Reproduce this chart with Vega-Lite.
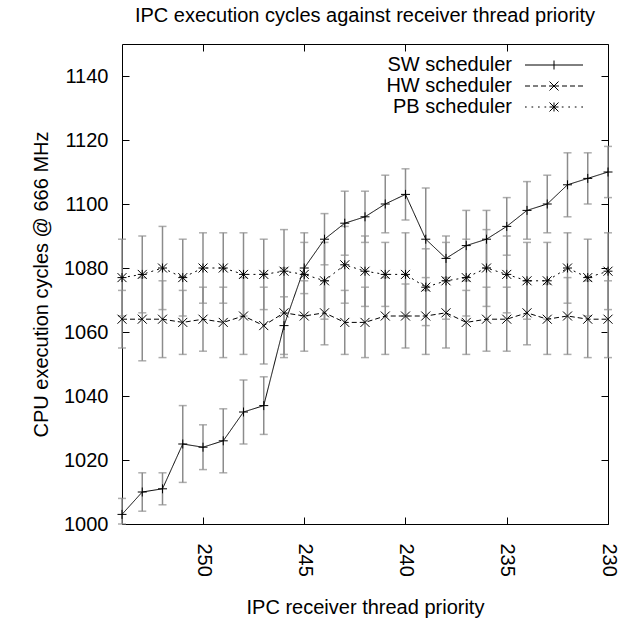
{
  "$schema": "https://vega.github.io/schema/vega-lite/v6.json",
  "width": 486,
  "height": 480,
  "autosize": "none",
  "padding": {"left": 122, "top": 44, "right": 30, "bottom": 97},
  "background": "white",
  "config": {
    "view": {"stroke": "black", "strokeWidth": 1},
    "font": "Liberation Sans",
    "axis": {
      "domain": false, "grid": false, "ticks": true, "tickColor": "black", "tickSize": -7, "tickWidth": 1,
      "labelFont": "Liberation Sans", "labelFontSize": 20, "labelColor": "black",
      "labelFlush": false, "labelOverlap": false, "labelBound": false,
      "titleFont": "Liberation Sans", "titleFontSize": 20, "titleFontWeight": "normal", "titleColor": "black"
    }
  },
  "title": {"text": "IPC execution cycles against receiver thread priority", "font": "Liberation Sans", "fontSize": 20, "fontWeight": "normal", "color": "black", "frame": "group", "offset": 18},
  "data": {"values": [
    {"series":"SW scheduler","prio":254,"cycles":1003,"lo":998,"hi":1008},
    {"series":"SW scheduler","prio":253,"cycles":1010,"lo":1004,"hi":1016},
    {"series":"SW scheduler","prio":252,"cycles":1011,"lo":1006,"hi":1016},
    {"series":"SW scheduler","prio":251,"cycles":1025,"lo":1013,"hi":1037},
    {"series":"SW scheduler","prio":250,"cycles":1024,"lo":1017,"hi":1031},
    {"series":"SW scheduler","prio":249,"cycles":1026,"lo":1016,"hi":1036},
    {"series":"SW scheduler","prio":248,"cycles":1035,"lo":1025,"hi":1045},
    {"series":"SW scheduler","prio":247,"cycles":1037,"lo":1028,"hi":1046},
    {"series":"SW scheduler","prio":246,"cycles":1062,"lo":1053,"hi":1071},
    {"series":"SW scheduler","prio":245,"cycles":1080,"lo":1072,"hi":1088},
    {"series":"SW scheduler","prio":244,"cycles":1089,"lo":1081,"hi":1097},
    {"series":"SW scheduler","prio":243,"cycles":1094,"lo":1084,"hi":1104},
    {"series":"SW scheduler","prio":242,"cycles":1096,"lo":1088,"hi":1104},
    {"series":"SW scheduler","prio":241,"cycles":1100,"lo":1091,"hi":1109},
    {"series":"SW scheduler","prio":240,"cycles":1103,"lo":1095,"hi":1111},
    {"series":"SW scheduler","prio":239,"cycles":1089,"lo":1073,"hi":1105},
    {"series":"SW scheduler","prio":238,"cycles":1083,"lo":1076,"hi":1090},
    {"series":"SW scheduler","prio":237,"cycles":1087,"lo":1076,"hi":1098},
    {"series":"SW scheduler","prio":236,"cycles":1089,"lo":1080,"hi":1098},
    {"series":"SW scheduler","prio":235,"cycles":1093,"lo":1084,"hi":1102},
    {"series":"SW scheduler","prio":234,"cycles":1098,"lo":1089,"hi":1107},
    {"series":"SW scheduler","prio":233,"cycles":1100,"lo":1091,"hi":1109},
    {"series":"SW scheduler","prio":232,"cycles":1106,"lo":1096,"hi":1116},
    {"series":"SW scheduler","prio":231,"cycles":1108,"lo":1100,"hi":1116},
    {"series":"SW scheduler","prio":230,"cycles":1110,"lo":1102,"hi":1118},
    {"series":"HW scheduler","prio":254,"cycles":1064,"lo":1055,"hi":1073},
    {"series":"HW scheduler","prio":253,"cycles":1064,"lo":1051,"hi":1077},
    {"series":"HW scheduler","prio":252,"cycles":1064,"lo":1052,"hi":1076},
    {"series":"HW scheduler","prio":251,"cycles":1063,"lo":1053,"hi":1073},
    {"series":"HW scheduler","prio":250,"cycles":1064,"lo":1054,"hi":1074},
    {"series":"HW scheduler","prio":249,"cycles":1063,"lo":1052,"hi":1074},
    {"series":"HW scheduler","prio":248,"cycles":1065,"lo":1053,"hi":1077},
    {"series":"HW scheduler","prio":247,"cycles":1062,"lo":1050,"hi":1074},
    {"series":"HW scheduler","prio":246,"cycles":1066,"lo":1052,"hi":1080},
    {"series":"HW scheduler","prio":245,"cycles":1065,"lo":1054,"hi":1076},
    {"series":"HW scheduler","prio":244,"cycles":1066,"lo":1056,"hi":1076},
    {"series":"HW scheduler","prio":243,"cycles":1063,"lo":1053,"hi":1073},
    {"series":"HW scheduler","prio":242,"cycles":1063,"lo":1052,"hi":1074},
    {"series":"HW scheduler","prio":241,"cycles":1065,"lo":1053,"hi":1077},
    {"series":"HW scheduler","prio":240,"cycles":1065,"lo":1055,"hi":1075},
    {"series":"HW scheduler","prio":239,"cycles":1065,"lo":1053,"hi":1077},
    {"series":"HW scheduler","prio":238,"cycles":1066,"lo":1055,"hi":1077},
    {"series":"HW scheduler","prio":237,"cycles":1063,"lo":1053,"hi":1073},
    {"series":"HW scheduler","prio":236,"cycles":1064,"lo":1054,"hi":1074},
    {"series":"HW scheduler","prio":235,"cycles":1064,"lo":1054,"hi":1074},
    {"series":"HW scheduler","prio":234,"cycles":1066,"lo":1056,"hi":1076},
    {"series":"HW scheduler","prio":233,"cycles":1064,"lo":1053,"hi":1075},
    {"series":"HW scheduler","prio":232,"cycles":1065,"lo":1053,"hi":1077},
    {"series":"HW scheduler","prio":231,"cycles":1064,"lo":1052,"hi":1076},
    {"series":"HW scheduler","prio":230,"cycles":1064,"lo":1052,"hi":1076},
    {"series":"PB scheduler","prio":254,"cycles":1077,"lo":1065,"hi":1089},
    {"series":"PB scheduler","prio":253,"cycles":1078,"lo":1066,"hi":1090},
    {"series":"PB scheduler","prio":252,"cycles":1080,"lo":1067,"hi":1093},
    {"series":"PB scheduler","prio":251,"cycles":1077,"lo":1065,"hi":1089},
    {"series":"PB scheduler","prio":250,"cycles":1080,"lo":1069,"hi":1091},
    {"series":"PB scheduler","prio":249,"cycles":1080,"lo":1069,"hi":1091},
    {"series":"PB scheduler","prio":248,"cycles":1078,"lo":1065,"hi":1091},
    {"series":"PB scheduler","prio":247,"cycles":1078,"lo":1067,"hi":1089},
    {"series":"PB scheduler","prio":246,"cycles":1079,"lo":1066,"hi":1092},
    {"series":"PB scheduler","prio":245,"cycles":1078,"lo":1065,"hi":1091},
    {"series":"PB scheduler","prio":244,"cycles":1076,"lo":1064,"hi":1088},
    {"series":"PB scheduler","prio":243,"cycles":1081,"lo":1069,"hi":1093},
    {"series":"PB scheduler","prio":242,"cycles":1079,"lo":1068,"hi":1090},
    {"series":"PB scheduler","prio":241,"cycles":1078,"lo":1068,"hi":1088},
    {"series":"PB scheduler","prio":240,"cycles":1078,"lo":1065,"hi":1091},
    {"series":"PB scheduler","prio":239,"cycles":1074,"lo":1062,"hi":1086},
    {"series":"PB scheduler","prio":238,"cycles":1076,"lo":1064,"hi":1088},
    {"series":"PB scheduler","prio":237,"cycles":1077,"lo":1065,"hi":1089},
    {"series":"PB scheduler","prio":236,"cycles":1080,"lo":1068,"hi":1092},
    {"series":"PB scheduler","prio":235,"cycles":1078,"lo":1066,"hi":1090},
    {"series":"PB scheduler","prio":234,"cycles":1076,"lo":1064,"hi":1088},
    {"series":"PB scheduler","prio":233,"cycles":1076,"lo":1064,"hi":1088},
    {"series":"PB scheduler","prio":232,"cycles":1080,"lo":1069,"hi":1091},
    {"series":"PB scheduler","prio":231,"cycles":1077,"lo":1065,"hi":1089},
    {"series":"PB scheduler","prio":230,"cycles":1079,"lo":1067,"hi":1091}
  ]},
  "layer": [
    {
      "mark": {"type": "errorbar", "ticks": {"size": 8, "color": "#8c8c8c", "thickness": 1.5}, "rule": {"color": "#8c8c8c", "strokeWidth": 1.5}},
      "encoding": {
        "x": {"field": "prio", "type": "quantitative", "scale": {"domain": [230, 254], "reverse": true, "nice": false, "zero": false}, "axis": null},
        "y": {"field": "lo", "type": "quantitative", "scale": {"domain": [1000, 1150], "nice": false, "zero": false, "clamp": true}, "axis": null},
        "y2": {"field": "hi"}
      }
    },
    {
      "mark": {"type": "line", "color": "black", "strokeWidth": 1},
      "encoding": {
        "x": {"field": "prio", "type": "quantitative", "axis": {"orient": "bottom", "values": [250, 245, 240, 235, 230], "labelAngle": 90, "labelAlign": "left", "labelBaseline": "middle", "labelPadding": 26, "title": "IPC receiver thread priority", "titlePadding": 21}},
        "y": {"field": "cycles", "type": "quantitative", "axis": {"orient": "left", "values": [1000, 1020, 1040, 1060, 1080, 1100, 1120, 1140], "format": "d", "labelPadding": 21, "title": "CPU execution cycles @ 666 MHz", "titlePadding": 12}},
        "strokeDash": {"field": "series", "type": "nominal", "sort": ["SW scheduler", "HW scheduler", "PB scheduler"], "scale": {"range": [[1, 0], [5, 3], [2, 4]]}, "legend": null}
      }
    },
    {
      "mark": {"type": "point", "filled": false, "color": "black", "strokeWidth": 1, "size": 81, "opacity": 1},
      "encoding": {
        "x": {"field": "prio", "type": "quantitative", "axis": null},
        "y": {"field": "cycles", "type": "quantitative", "axis": null},
        "shape": {"field": "series", "type": "nominal",
          "scale": {"domain": ["SW scheduler", "HW scheduler", "PB scheduler"], "range": ["M-1,0L1,0M0,-1L0,1", "M-1,-1L1,1M-1,1L1,-1", "M-1,0L1,0M0,-1L0,1M-1,-1L1,1M-1,1L1,-1"]},
          "legend": null
        }
      }
    },
    {
      "mark": {"type": "point", "filled": false, "color": "black", "strokeWidth": 1, "opacity": 0},
      "encoding": {
        "x": {"field": "prio", "type": "quantitative", "axis": null},
        "y": {"field": "cycles", "type": "quantitative", "axis": null},
        "shape": {"field": "series", "type": "nominal",
          "scale": {"domain": ["SW scheduler", "HW scheduler", "PB scheduler"], "range": [
            "M-2.9,0L2.9,0M0,-0.45L0,0.45",
            "M-2.9,0L-2.4,0M-2.1,0L-1.6,0M-1.3,0L-0.8,0M-0.5,0L0.5,0M0.8,0L1.3,0M1.6,0L2.1,0M2.4,0L2.9,0M-0.45,-0.45L0.45,0.45M-0.45,0.45L0.45,-0.45",
            "M-2.9,0L-2.73,0M-2.25,0L-2.08,0M-1.6,0L-1.43,0M-0.95,0L-0.78,0M0.78,0L0.95,0M1.43,0L1.6,0M2.08,0L2.25,0M2.73,0L2.9,0M-0.45,0L0.45,0M0,-0.45L0,0.45M-0.45,-0.45L0.45,0.45M-0.45,0.45L0.45,-0.45"
          ]},
          "legend": {
            "orient": "none", "legendX": 421.5, "legendY": 10.5, "title": null,
            "labelAlign": "right", "labelOffset": -52.5, "labelFont": "Liberation Sans", "labelFontSize": 20, "labelColor": "black", "labelLimit": 0,
            "symbolSize": 400, "symbolStrokeWidth": 1, "symbolStrokeColor": "black", "symbolFillColor": "transparent", "symbolOffset": 0, "symbolOpacity": 1,
            "rowPadding": -2.5, "padding": 0
          }
        }
      }
    },
    {
      "mark": {"type": "point", "opacity": 0},
      "encoding": {
        "x": {"field": "prio", "type": "quantitative", "axis": {"orient": "top", "values": [250, 245, 240, 235, 230], "labels": false, "title": null}},
        "y": {"field": "cycles", "type": "quantitative", "axis": {"orient": "right", "values": [1000, 1020, 1040, 1060, 1080, 1100, 1120, 1140], "labels": false, "title": null}}
      }
    }
  ],
  "resolve": {"scale": {"shape": "independent"}, "axis": {"x": "independent", "y": "independent"}}
}
